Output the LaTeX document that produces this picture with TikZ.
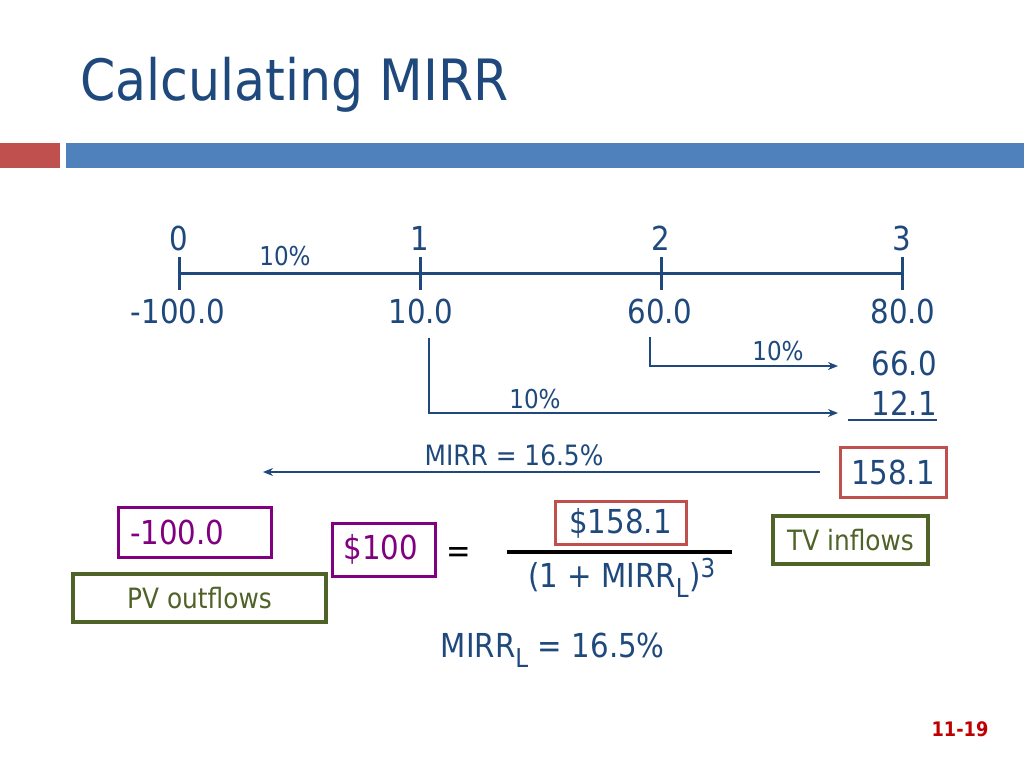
\documentclass[tikz,border=0pt]{standalone}
\usepackage{fontspec}
\setmainfont{DejaVu Sans}[FakeStretch=0.887]
\usetikzlibrary{arrows.meta}
\definecolor{tblue}{RGB}{31,73,125}
\definecolor{barred}{RGB}{192,80,77}
\definecolor{barblue}{RGB}{79,129,189}
\definecolor{ppl}{RGB}{128,0,128}
\definecolor{olv}{RGB}{79,98,40}
\definecolor{pgred}{RGB}{192,0,0}
\begin{document}
\begin{tikzpicture}[x=1pt,y=-1pt,
  txt/.style={inner sep=0pt, text=tblue, font=\fontsize{33}{36}\selectfont},
  small/.style={inner sep=0pt, text=tblue, font=\fontsize{26}{30}\selectfont},
  mid/.style={inner sep=0pt, text=tblue, font=\fontsize{28}{32}\selectfont},
  axis/.style={draw=tblue, line width=3pt},
  arr/.style={draw=tblue, line width=2.5pt, -{Stealth[length=10pt,width=8pt]}},
  redbox/.style={draw=barred, line width=3pt, inner sep=0pt},
  pbox/.style={draw=ppl, line width=3pt, inner sep=0pt, text=ppl, font=\fontsize{33}{36}\selectfont},
  obox/.style={draw=olv, line width=4.5pt, inner sep=0pt, text=olv, font=\fontsize{28}{32}\selectfont},
]
\useasboundingbox (0,0) rectangle (1024,768);
% title and bars
\node[anchor=base west, inner sep=0pt, text=tblue, font=\fontsize{57}{60}\selectfont] (title) at (80,100) {Calculating MIRR};
\fill[barred] (0,143) rectangle (60,168);
\fill[barblue] (66,143) rectangle (1024,168);
% timeline
\coordinate (t0) at (179,273);
\coordinate (t1) at (420,273);
\coordinate (t2) at (661,273);
\coordinate (t3) at (902,273);
\draw[axis] (t0) -- (t3);
\foreach \c in {t0,t1,t2,t3} \draw[axis] ([yshift=16pt]\c) -- ([yshift=-17pt]\c);
\node[txt, anchor=base] (p0) at (179,250) {0};
\node[txt, anchor=base] (p1) at (420,250) {1};
\node[txt, anchor=base] (p2) at (661,250) {2};
\node[txt, anchor=base] (p3) at (902,250) {3};
\node[small, anchor=base] (r0) at (285,265) {10\%};
\node[txt, anchor=base] (v0) at (178,323) {-100.0};
\node[txt, anchor=base] (v1) at (421,323) {10.0};
\node[txt, anchor=base] (v2) at (660,323) {60.0};
\node[txt, anchor=base] (v3) at (903,323) {80.0};
% compounding arrows
\coordinate (a1s) at (650,337);
\coordinate (a1e) at (838,366);
\draw[arr] (a1s) |- (a1e);
\node[small, anchor=base] (r2) at (778,360) {10\%};
\node[txt, anchor=base east] (c2) at (937,375) {66.0};
\coordinate (a2s) at (429,338);
\coordinate (a2e) at (838,413);
\draw[arr] (a2s) |- (a2e);
\node[small, anchor=base] (r1) at (535,408) {10\%};
\node[txt, anchor=base east] (c1) at (937,415) {12.1};
\draw[tblue, line width=2pt] ([xshift=-23pt,yshift=-5pt]c1.base west) -- ([yshift=-5pt]c1.base east);
% MIRR arrow
\node[redbox, txt, minimum width=106pt, minimum height=50pt] (tv) at (893,472) {158.1};
\coordinate (mend) at (263,472);
\draw[arr] ([xshift=-19pt]tv.west) -- (mend);
\node[mid, anchor=base] (mlab) at (514,465) {MIRR = 16.5\%};
% equation area
\node[pbox, minimum width=153pt, minimum height=50pt, text width=129pt, align=left] (pv) at (194.5,532) {-100.0};
\node[obox, minimum width=253pt, minimum height=48pt] (pvl) at (199.5,598) {PV outflows};
\node[pbox, minimum width=103pt, minimum height=53pt] (d100) at (383.5,549.5) {\$100\,};
\node[txt, text=black] (eq) at (459,555) {=};
\draw[black, line width=4pt] (507,552) -- (732,552);
\node[redbox, txt, minimum width=131pt, minimum height=43pt] (num) at (620.5,523) {\$158.1};
\node[txt, anchor=base] (den) at (622,587) {(1 + MIRR\textsubscript{\fontsize{26}{28}\selectfont L})\textsuperscript{\fontsize{26}{28}\selectfont 3}};
\node[obox, minimum width=155pt, minimum height=48pt] (tvl) at (850.5,540) {TV inflows};
\node[txt, anchor=base east] (res) at (665,657) {MIRR\textsubscript{\fontsize{26}{28}\selectfont L} = 16.5\%};
\node[inner sep=0pt, anchor=base, text=pgred, font=\fontsize{20}{24}\selectfont\bfseries] (pg) at (960,736) {11-19};
\end{tikzpicture}
\end{document}
